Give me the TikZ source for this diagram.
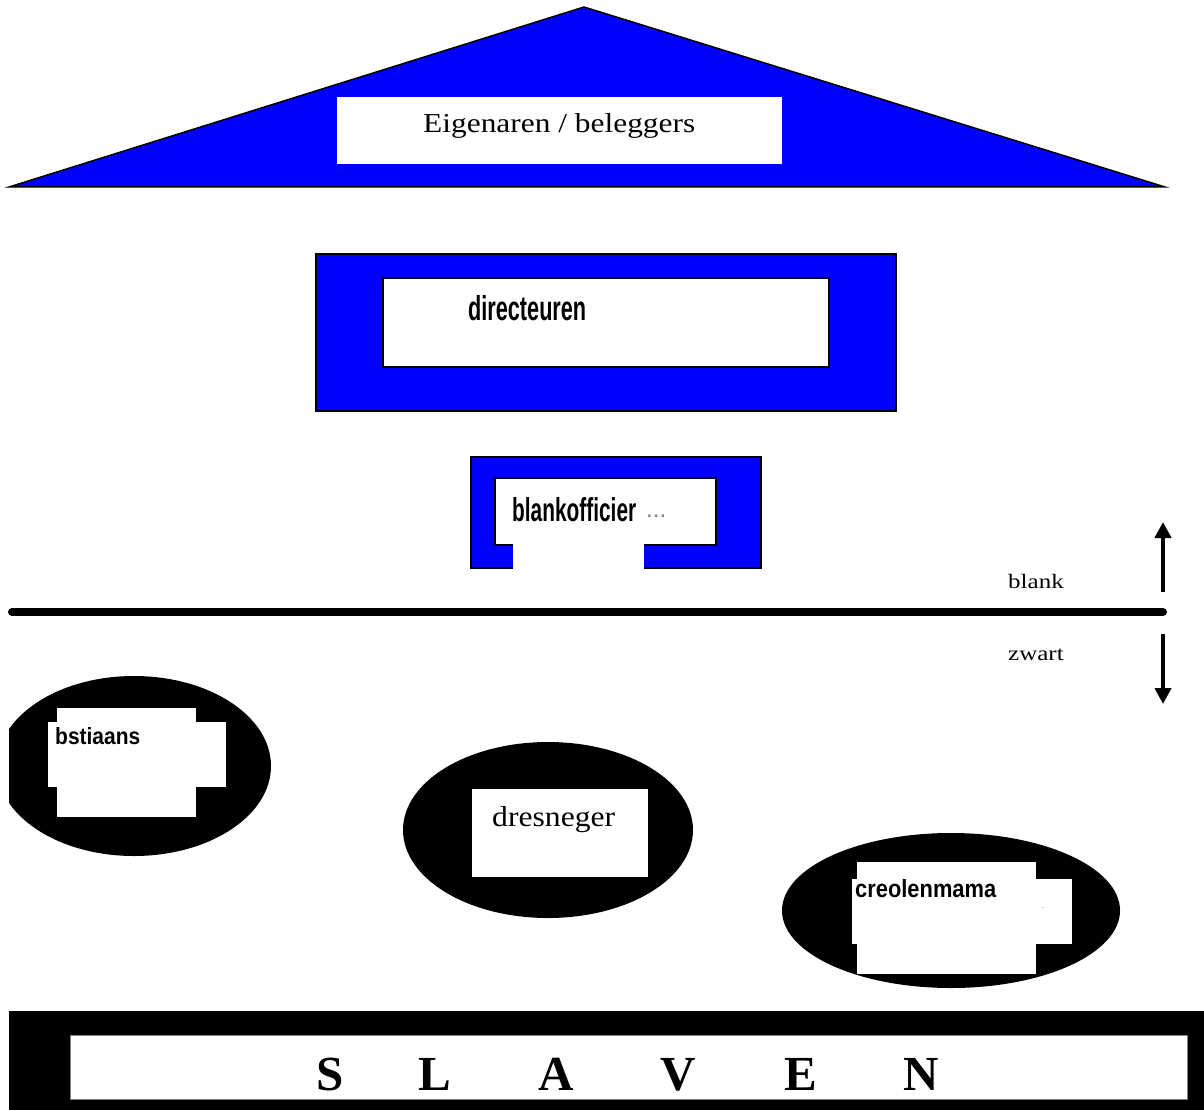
\documentclass[tikz,border=0pt]{standalone}
\usepackage{fontspec}
\setmainfont{Liberation Serif}
\newfontfamily\labelsans{Liberation Sans}
\usetikzlibrary{arrows.meta}
\definecolor{pureblue}{RGB}{0,0,255}
\begin{document}
\begin{tikzpicture}[x=1pt,y=-1pt,
  bluebox/.style={fill=pureblue,draw=black,line width=1.5pt},
  whitebox/.style={fill=white,draw=black,line width=1.5pt},
  hole/.style={fill=white},
  blob/.style={fill=black},
  sanslabel/.style={inner sep=0pt,anchor=base west,font=\labelsans\bfseries\fontsize{30}{32}\selectfont},
  seriflabel/.style={inner sep=0pt,anchor=base west,font=\fontsize{24}{26}\selectfont},
  sidelabel/.style={inner sep=0pt,anchor=base west,font=\fontsize{20.5}{22}\selectfont},
  updown/.style={line width=4pt,-{Triangle[width=16pt,length=16pt]}}
]
\useasboundingbox (0,0) rectangle (1204,1110);

% roof
\filldraw[fill=pureblue,draw=black,line width=1.5pt] (9,187) -- (584,7) -- (1165,187) -- cycle;
\fill[white] (337,97) rectangle (782,164);
\node[seriflabel] (eig) at (423,133) {\resizebox{272pt}{19pt}{Eigenaren / beleggers}};

% directeuren
\filldraw[bluebox] (316,254) rectangle (896,411);
\filldraw[whitebox] (383,278) rectangle (829,367);
\node[sanslabel] (dir) at (468,320) {\resizebox{118pt}{25pt}{directeuren}};

% blankofficier
\filldraw[bluebox] (471,457) rectangle (761,568);
\filldraw[whitebox] (495,478) rectangle (716,545);
\fill[hole] (512.5,544) rectangle (644,570);
\node[sanslabel] (blo) at (512,521) {\resizebox{124pt}{24pt}{blankofficier}};
\node[inner sep=0pt,anchor=base west,font=\labelsans\fontsize{24}{24}\selectfont,text=gray] (dots) at (646,517) {...};

% divider and arrows
\coordinate (lineL) at (12,612);
\coordinate (lineR) at (1163,612);
\draw[line width=8pt,line cap=round] (lineL) -- (lineR);
\coordinate (upFrom) at (1163,592);
\coordinate (upTo) at (1163,522);
\coordinate (downFrom) at (1163,634);
\coordinate (downTo) at (1163,704);
\draw[updown] (upFrom) -- (upTo);
\draw[updown] (downFrom) -- (downTo);
\node[sidelabel] (blank) at (1008,588) {\scalebox{1.22}[1]{blank}};
\node[sidelabel] (zwart) at (1008,660) {\scalebox{1.22}[1]{zwart}};

% bstiaans
\begin{scope}
\clip (9,600) rectangle (400,900);
\fill[blob] (134,766) ellipse [x radius=137pt, y radius=90pt];
\end{scope}
\fill[hole] (57,708) rectangle (196,817);
\fill[hole] (48,722) rectangle (226,787);
\node[sanslabel,font=\labelsans\bfseries\fontsize{22}{24}\selectfont] (bst) at (55,744) {\resizebox{85pt}{17pt}{bstiaans}};

% dresneger
\fill[blob] (548,830) ellipse [x radius=145pt, y radius=88pt];
\fill[hole] (472,789) rectangle (648,877);
\node[seriflabel] (dres) at (492,826) {\resizebox{123pt}{20pt}{dresneger}};

% creolenmama
\fill[blob] (951,910.5) ellipse [x radius=169pt, y radius=77.5pt];
\fill[hole] (857,862) rectangle (1036,974);
\fill[hole] (852,879) rectangle (1072,944);
\node[sanslabel,font=\labelsans\bfseries\fontsize{24}{26}\selectfont] (creo) at (855,897) {\resizebox{141pt}{18pt}{creolenmama}};
\node[inner sep=0pt,font=\fontsize{6}{6}\selectfont] (speck) at (1043,908) {.};

% slaven
\fill[black] (9,1011) rectangle (1204,1110);
\filldraw[fill=white,draw=gray,line width=1pt] (70,1035) rectangle (1187,1099);
\node[inner sep=0pt,anchor=base west,font=\bfseries\fontsize{49}{52}\selectfont] (slaven) at (330,1090)
  {\makebox[0pt]{S}\hspace{105pt}\makebox[0pt]{L}\hspace{121pt}\makebox[0pt]{A}\hspace{122pt}\makebox[0pt]{V}\hspace{123pt}\makebox[0pt]{E}\hspace{120pt}\makebox[0pt]{N}};
\end{tikzpicture}
\end{document}
